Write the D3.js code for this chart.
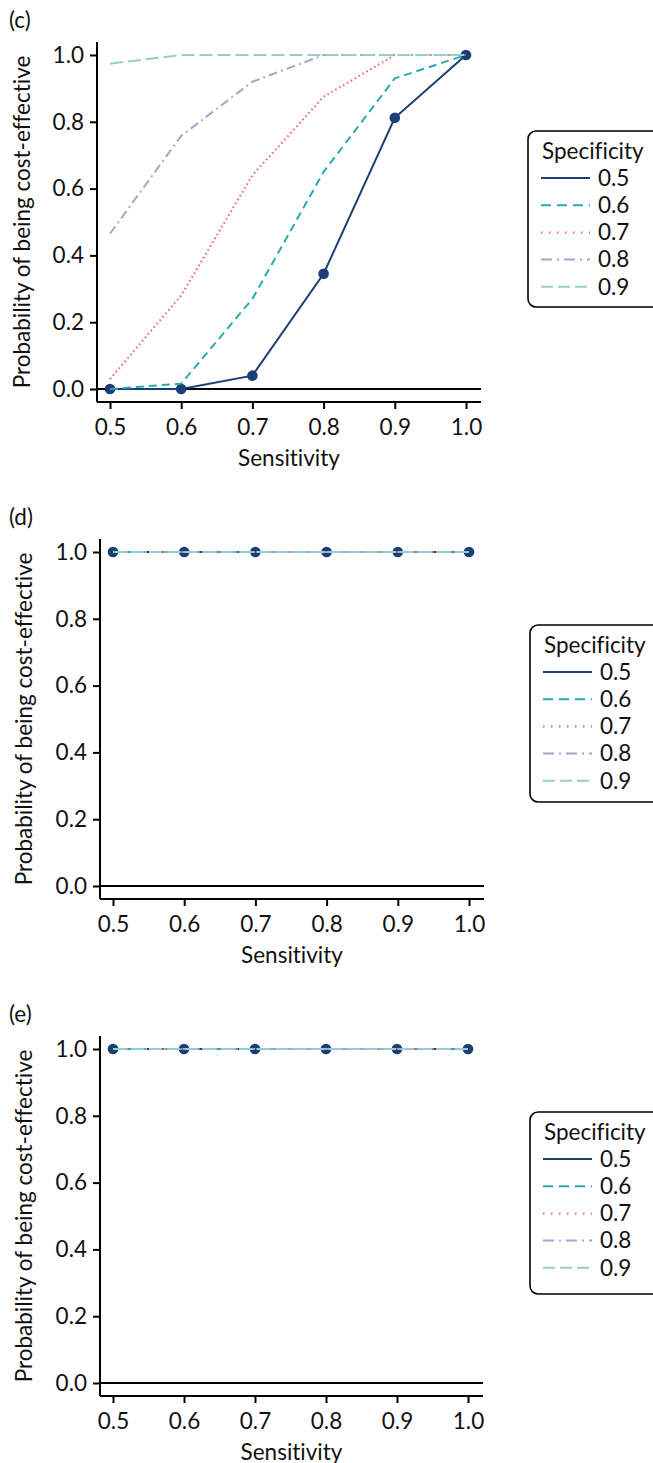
<!DOCTYPE html>
<html><head><meta charset="utf-8">
<script src="https://cdn.jsdelivr.net/npm/d3@7"></script>
<style>body{margin:0;background:#fff}svg{display:block}text{font-family:Lato,"DejaVu Sans",sans-serif;fill:#111;font-variant-ligatures:none;font-feature-settings:"liga" 0}</style>
</head><body>
<script>
const sensitivity = [0.5, 0.6, 0.7, 0.8, 0.9, 1.0];
const xTicks = [0.5, 0.6, 0.7, 0.8, 0.9, 1.0];
const yTicks = [0.0, 0.2, 0.4, 0.6, 0.8, 1.0];
const specificity = ["0.5", "0.6", "0.7", "0.8", "0.9"];
// Panel (c)
const c_spec05 = [0.0, 0.0, 0.04, 0.345, 0.812, 1.0];
const c_spec06 = [0.0, 0.016, 0.27, 0.65, 0.93, 1.0];
const c_spec07 = [0.03, 0.28, 0.64, 0.875, 1.0, 1.0];
const c_spec08 = [0.465, 0.758, 0.92, 1.0, 1.0, 1.0];
const c_spec09 = [0.974, 1.0, 1.0, 1.0, 1.0, 1.0];
// Panel (d)
const d_spec05 = [1, 1, 1, 1, 1, 1];
const d_spec06 = [1, 1, 1, 1, 1, 1];
const d_spec07 = [1, 1, 1, 1, 1, 1];
const d_spec08 = [1, 1, 1, 1, 1, 1];
const d_spec09 = [1, 1, 1, 1, 1, 1];
// Panel (e)
const e_spec05 = [1, 1, 1, 1, 1, 1];
const e_spec06 = [1, 1, 1, 1, 1, 1];
const e_spec07 = [1, 1, 1, 1, 1, 1];
const e_spec08 = [1, 1, 1, 1, 1, 1];
const e_spec09 = [1, 1, 1, 1, 1, 1];

const styles = [
  {color:"#1c3f73", dash:null, legDash:null, w:2},
  {color:"#2aabab", dash:"8,5", legDash:"10,6", w:2},
  {color:"#f0605a", dash:"1.5,3", legDash:"1.5,6.5", w:2},
  {color:"#a7a6cc", dash:"9,4,2,4", legDash:"11,5,2,5", w:2},
  {color:"#93cfd2", dash:"13,5", legDash:"12,5", w:2}
];

const FS = "22.5px";
const W = 653, H = 1463;
const svg = d3.select("body").append("svg").attr("width", W).attr("height", H);

function panel(cfg) {
  const g = svg.append("g");
  const x = d3.scaleLinear().domain([0.5, 1.0]).range([cfg.x0, cfg.x1]);
  const y = d3.scaleLinear().domain([0, 1]).range([cfg.y0, cfg.y1]);
  const axL = cfg.x0 - 13, axR = cfg.x1 + 15, axT = cfg.y1 - 13, axB = cfg.y0 + 13;
  // y axis
  const ya = g.append("g").attr("transform", `translate(${axL},0)`)
    .call(d3.axisLeft(y).tickValues(yTicks).tickFormat(d3.format(".1f")).tickSize(7).tickPadding(6));
  ya.select(".domain").remove();
  ya.append("line").attr("x1",0).attr("x2",0).attr("y1",axT).attr("y2",axB).attr("stroke","#000").attr("stroke-width",2);
  const xa = g.append("g").attr("transform", `translate(0,${axB})`)
    .call(d3.axisBottom(x).tickValues(xTicks).tickFormat(d3.format(".1f")).tickSize(7).tickPadding(10));
  xa.select(".domain").remove();
  xa.append("line").attr("x1",axL).attr("x2",axR).attr("y1",0).attr("y2",0).attr("stroke","#000").attr("stroke-width",2);
  g.selectAll(".tick line").attr("stroke","#000").attr("stroke-width",2);
  g.selectAll(".tick text").style("font-size",FS).style("font-family","Lato").attr("fill","#111");
  // zero reference line
  g.append("line").attr("x1",axL).attr("x2",axR).attr("y1",y(0)).attr("y2",y(0)).attr("stroke","#000").attr("stroke-width",2);
  // axis titles
  g.append("text").attr("x", (axL+axR)/2).attr("y", axB + 64).attr("text-anchor","middle").style("font-size",FS).text("Sensitivity");
  g.append("text").attr("transform", `translate(${cfg.ylabX},${(axT+axB)/2}) rotate(-90)`).attr("text-anchor","middle")
    .style("font-size",FS).text("Probability of being cost-effective");
  g.append("text").attr("x", 9).attr("y", cfg.letterY).style("font-size",FS).text(cfg.letter);
  // series
  const line = d3.line().x((d,i)=>x(sensitivity[i])).y(d=>y(d));
  cfg.series.forEach((s, k) => {
    const st = styles[k];
    g.append("path").datum(s).attr("d", line).attr("fill","none").attr("stroke", st.color)
      .attr("stroke-width", st.w).attr("stroke-dasharray", st.dash);
    if (k === 0) {
      g.selectAll(null).data(s).enter().append("circle")
        .attr("cx",(d,i)=>x(sensitivity[i])).attr("cy",d=>y(d)).attr("r",5.3).attr("fill", st.color);
    }
  });
  // legend
  const L = cfg.legend;
  const lg = g.append("g");
  lg.append("rect").attr("x", L.x).attr("y", L.y).attr("width", 140).attr("height", L.h).attr("rx", 8)
    .attr("fill","#fff").attr("stroke","#000").attr("stroke-width",1.6);
  lg.append("text").attr("x", L.x + 14).attr("y", L.y + 28).style("font-size",FS).text("Specificity");
  specificity.forEach((lab, k) => {
    const yy = L.y + 47 + k * 27.2;
    const st = styles[k];
    lg.append("line").attr("x1", L.x + 13).attr("x2", L.x + 62).attr("y1", yy).attr("y2", yy)
      .attr("stroke", st.color).attr("stroke-width", 2).attr("stroke-dasharray", st.legDash);
    lg.append("text").attr("x", L.x + 70).attr("y", yy).attr("dy","0.35em").style("font-size",FS).text(lab);
  });
}

panel({x0:110, x1:466, y0:389, y1:55, ylabX:30, letter:"(c)", letterY:28,
  series:[c_spec05, c_spec06, c_spec07, c_spec08, c_spec09], legend:{x:528, y:131, h:176}});
panel({x0:113, x1:469, y0:886, y1:552, ylabX:32, letter:"(d)", letterY:525,
  series:[d_spec05, d_spec06, d_spec07, d_spec08, d_spec09], legend:{x:530, y:625, h:177}});
panel({x0:113, x1:468, y0:1383, y1:1049, ylabX:32, letter:"(e)", letterY:1022,
  series:[e_spec05, e_spec06, e_spec07, e_spec08, e_spec09], legend:{x:530, y:1112, h:182}});
</script>
</body></html>
